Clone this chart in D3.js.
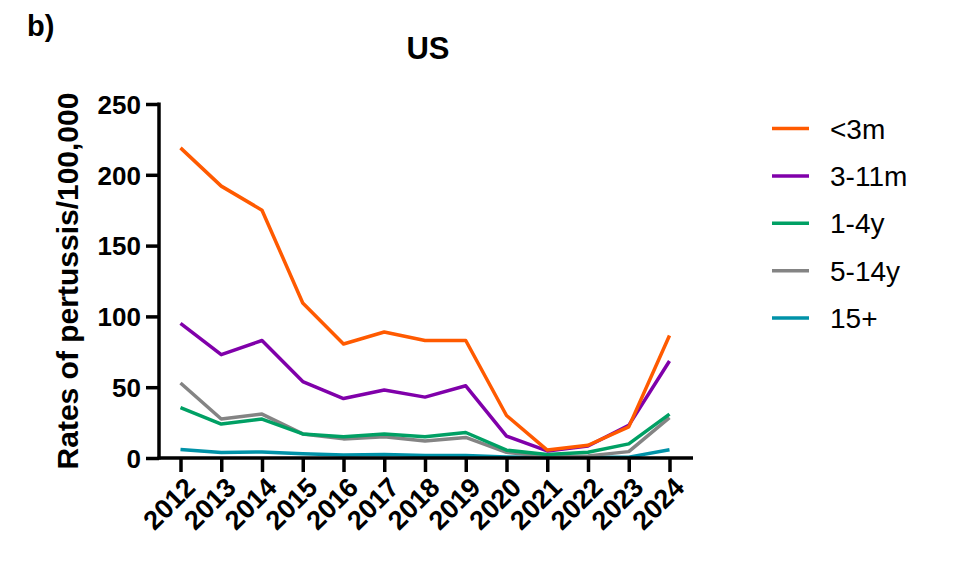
<!DOCTYPE html>
<html><head><meta charset="utf-8">
<script src="https://cdn.jsdelivr.net/npm/d3@7"></script>
<style>
body{margin:0;background:#fff;}
text{font-family:"Liberation Sans",Arial,sans-serif;}
</style></head>
<body><svg id="c" width="968" height="584"></svg>
<script>
const years = [2012,2013,2014,2015,2016,2017,2018,2019,2020,2021,2022,2023,2024];
const lt3m   = [219,192,175,109.5,80.5,89,83,83,30,5.6,9,22,86.5];
const m3_11  = [95,73,83,54,42,48,43,51,15.5,5,8.5,23,68.5];
const y1_4   = [35.5,24,27.5,17,15,17,15,18,5.5,2.5,4,10,31];
const y5_14  = [53,27.5,31,17,13.5,15,12,14.5,4,1,1.5,4.5,28.5];
const y15p   = [6,3.8,4.3,3,2.2,2.5,1.8,1.8,0.7,0.3,0.5,0.6,5.8];
const seriesNames = ["<3m","3-11m","1-4y","5-14y","15+"];
const yTicks = [0,50,100,150,200,250];

const colors = ["#FF5A00","#8000AA","#00A064","#848484","#0092A8"];
const seriesVals = [lt3m,m3_11,y1_4,y5_14,y15p];
const series = seriesNames.map((n,i)=>({name:n,values:seriesVals[i],color:colors[i]}));

const svg = d3.select("#c");
const x = d3.scalePoint().domain(years).range([180.5,669.5]);
const y = d3.scaleLinear().domain([0,250]).range([458,104]);
const FF = "Liberation Sans, Arial, sans-serif";

// title & panel label
svg.append("text").attr("x",27).attr("y",36).attr("font-size",29).attr("font-weight","bold").text("b)");
svg.append("text").attr("x",428).attr("y",59).attr("text-anchor","middle").attr("font-size",31).attr("font-weight","bold").text("US");

// lines
const line = d3.line().x((d,i)=>x(years[i])).y(d=>y(d));
[4,3,2,1,0].forEach(i=>{
  svg.append("path").attr("d",line(series[i].values)).attr("fill","none")
    .attr("stroke",series[i].color).attr("stroke-width",3.5).attr("stroke-linejoin","round");
});

// y axis
const yAxis = svg.append("g").attr("transform","translate(159,0)")
  .call(d3.axisLeft(y).tickValues(yTicks).tickSize(13).tickPadding(5));
yAxis.select(".domain").attr("stroke","#000").attr("stroke-width",3.5).attr("d","M0,102.5V459.5");
yAxis.selectAll(".tick line").attr("stroke","#000").attr("stroke-width",3.5);
yAxis.selectAll(".tick text").attr("font-size",26).attr("font-weight","bold").attr("fill","#000")
  .attr("font-family",FF).attr("dy","0.36em");

// x axis
const xAxis = svg.append("g").attr("transform","translate(0,458)")
  .call(d3.axisBottom(x).tickSize(14).tickPadding(4));
xAxis.select(".domain").attr("stroke","#000").attr("stroke-width",3.5).attr("d","M157.5,0H693");
xAxis.selectAll(".tick line").attr("stroke","#000").attr("stroke-width",3.5);
xAxis.selectAll(".tick text").attr("font-size",27).attr("font-weight","bold").attr("fill","#000")
  .attr("font-family",FF)
  .attr("text-anchor","end").attr("dy",null).attr("y",0)
  .attr("transform","translate(16,31) rotate(-45)");

// y label
svg.append("text").attr("transform","translate(78,281) rotate(-90)").attr("text-anchor","middle")
  .attr("font-size",30).attr("font-weight","bold").text("Rates of pertussis/100,000");

// legend
const lg = svg.append("g");
series.forEach((s,i)=>{
  const yy = 128.5 + i*47.4;
  lg.append("line").attr("x1",772).attr("x2",809).attr("y1",yy).attr("y2",yy)
    .attr("stroke",s.color).attr("stroke-width",3.5);
  lg.append("text").attr("x",830).attr("y",yy+10).attr("font-size",28).text(s.name);
});
</script></body></html>
